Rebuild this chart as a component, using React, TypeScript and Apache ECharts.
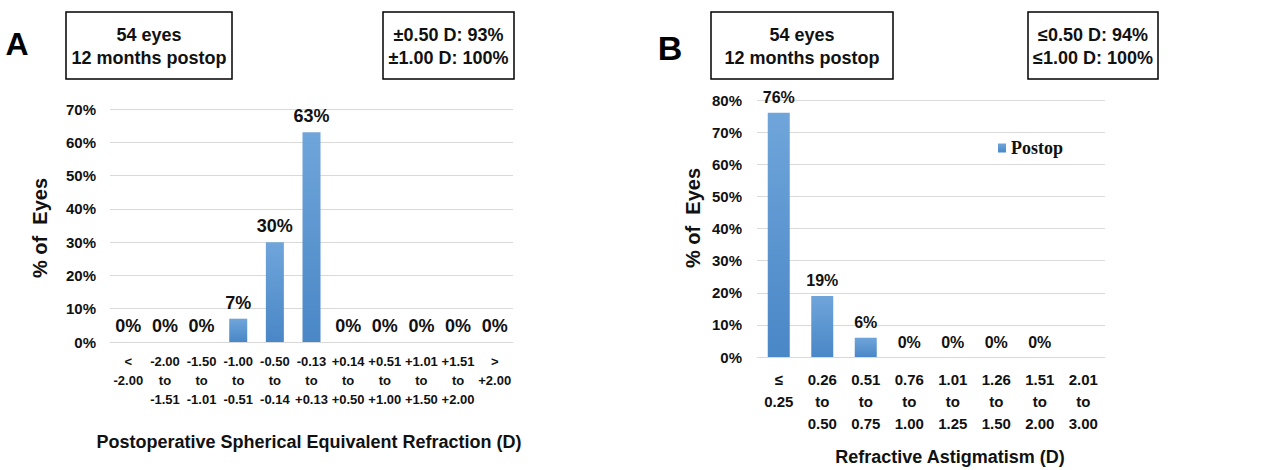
import React, { useEffect, useRef } from "react";
import * as echarts from "echarts";

const seCategories = [
  "<\n-2.00", "-2.00\nto\n-1.51", "-1.50\nto\n-1.01", "-1.00\nto\n-0.51", "-0.50\nto\n-0.14",
  "-0.13\nto\n+0.13", "+0.14\nto\n+0.50", "+0.51\nto\n+1.00", "+1.01\nto\n+1.50", "+1.51\nto\n+2.00", ">\n+2.00",
];
const seValues = [0, 0, 0, 7, 30, 63, 0, 0, 0, 0, 0];

const cylCategories = [
  "≤\n0.25", "0.26\nto\n0.50", "0.51\nto\n0.75", "0.76\nto\n1.00",
  "1.01\nto\n1.25", "1.26\nto\n1.50", "1.51\nto\n2.00", "2.01\nto\n3.00",
];
const cylValues: (number | null)[] = [76, 19, 6, 0, 0, 0, 0, null];

const seTicksMax = 70;
const cylTicksMax = 80;

const FONT = '"Liberation Sans", Arial, sans-serif';
const TXT = "#111";

const barColor = new echarts.graphic.LinearGradient(0, 0, 0, 1, [
  { offset: 0, color: "#6fa5da" },
  { offset: 1, color: "#4a87c7" },
]);

function boxGroup(x: number, y: number, w: number, h: number, l1: string, l2: string) {
  return {
    type: "group",
    children: [
      { type: "rect", shape: { x, y, width: w, height: h }, style: { fill: "#fff", stroke: "#000", lineWidth: 1.5 } },
      { type: "text", x: x + w / 2, y: y + 23, style: { text: l1, align: "center", verticalAlign: "middle", fontSize: 18, fontWeight: "bold", fontFamily: FONT, fill: TXT } },
      { type: "text", x: x + w / 2, y: y + 46, style: { text: l2, align: "center", verticalAlign: "middle", fontSize: 18, fontWeight: "bold", fontFamily: FONT, fill: TXT } },
    ],
  };
}

export default function App() {
  const ref = useRef<HTMLDivElement>(null);
  useEffect(() => {
    if (!ref.current) return;
    const chart = echarts.init(ref.current, null, { renderer: "svg" });
    const yAxisCommon = (max: number, margin: number) => ({
      type: "value",
      min: 0,
      max,
      interval: 10,
      axisLine: { show: false },
      axisTick: { show: false },
      splitLine: { lineStyle: { color: "#d9d9d9", width: 1 } },
      axisLabel: { formatter: "{value}%", fontSize: 15, fontWeight: "bold", fontFamily: FONT, color: TXT, margin },
    });
    const labelFmt = (p: any) => (p.value == null ? "" : Math.round(p.value) + "%");
    chart.setOption({
      animation: false,
      grid: [
        { left: 110, right: 1275 - 513, top: 109, bottom: 470 - 342 },
        { left: 757, right: 1275 - 1105, top: 100, bottom: 470 - 357 },
      ],
      xAxis: [
        {
          type: "category", gridIndex: 0, data: seCategories,
          axisLine: { lineStyle: { color: "#d9d9d9" } }, axisTick: { show: false },
          axisLabel: { interval: 0, fontSize: 13, fontWeight: "bold", fontFamily: FONT, color: TXT, lineHeight: 19, margin: 10, verticalAlign: "top" },
        },
        {
          type: "category", gridIndex: 1, data: cylCategories,
          axisLine: { lineStyle: { color: "#d9d9d9" } }, axisTick: { show: false },
          axisLabel: { interval: 0, fontSize: 15, fontWeight: "bold", fontFamily: FONT, color: TXT, lineHeight: 22, margin: 11, verticalAlign: "top" },
        },
      ],
      yAxis: [
        { ...yAxisCommon(seTicksMax, 14), gridIndex: 0 },
        { ...yAxisCommon(cylTicksMax, 15), gridIndex: 1 },
      ],
      legend: {
        data: ["Postop"], left: 998, top: 139, padding: 0, icon: "rect", itemWidth: 8, itemHeight: 9, itemGap: 4,
        textStyle: { fontFamily: '"Liberation Serif", "Times New Roman", serif', fontWeight: "bold", fontSize: 18, color: TXT },
      },
      series: [
        {
          name: "SE", type: "bar", xAxisIndex: 0, yAxisIndex: 0, data: seValues, barWidth: 18,
          itemStyle: { color: barColor },
          label: { show: true, position: "top", distance: 7, formatter: labelFmt, fontSize: 18, fontWeight: "bold", fontFamily: FONT, color: TXT },
        },
        {
          name: "Postop", type: "bar", xAxisIndex: 1, yAxisIndex: 1, data: cylValues, barWidth: 22,
          itemStyle: { color: barColor },
          label: { show: true, position: "top", distance: 7, formatter: labelFmt, fontSize: 16, fontWeight: "bold", fontFamily: FONT, color: TXT },
        },
      ],
      graphic: [
        { type: "text", x: 17, y: 44, style: { text: "A", align: "center", verticalAlign: "middle", fontSize: 32, fontWeight: "bold", fontFamily: FONT, fill: "#000" } },
        { type: "text", x: 670, y: 48, style: { text: "B", align: "center", verticalAlign: "middle", fontSize: 34, fontWeight: "bold", fontFamily: FONT, fill: "#000" } },
        boxGroup(66, 12, 166, 67, "54 eyes", "12 months postop"),
        boxGroup(383, 12, 131, 67, "±0.50 D: 93%", "±1.00 D: 100%"),
        boxGroup(711, 12, 182, 67, "54 eyes", "12 months postop"),
        boxGroup(1028, 12, 130, 67, "≤0.50 D: 94%", "≤1.00 D: 100%"),
        { type: "text", x: 40, y: 228, rotation: Math.PI / 2, style: { text: "% of  Eyes", align: "center", verticalAlign: "middle", fontSize: 20, fontWeight: "bold", fontFamily: FONT, fill: TXT } },
        { type: "text", x: 693, y: 218, rotation: Math.PI / 2, style: { text: "% of  Eyes", align: "center", verticalAlign: "middle", fontSize: 20, fontWeight: "bold", fontFamily: FONT, fill: TXT } },
        { type: "text", x: 309, y: 442, style: { text: "Postoperative Spherical Equivalent Refraction (D)", align: "center", verticalAlign: "middle", fontSize: 18, fontWeight: "bold", fontFamily: FONT, fill: TXT } },
        { type: "text", x: 950, y: 457, style: { text: "Refractive Astigmatism (D)", align: "center", verticalAlign: "middle", fontSize: 18, fontWeight: "bold", fontFamily: FONT, fill: TXT } },
      ],
    });
    return () => chart.dispose();
  }, []);
  return <div ref={ref} style={{ position: "fixed", left: 0, top: 0, width: 1275, height: 470, background: "#fff" }} />;
}
